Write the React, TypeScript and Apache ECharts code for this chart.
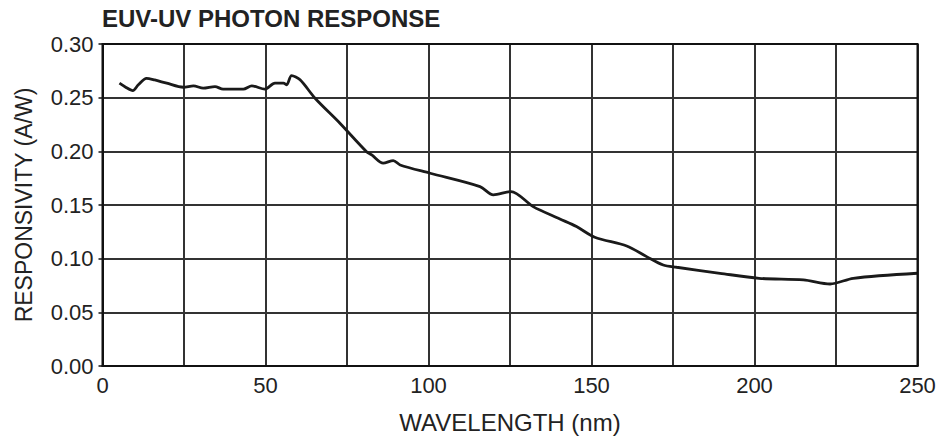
import React, { useEffect, useRef } from "react";
import * as echarts from "echarts";

const wavelengths = [5.2, 7, 9.3, 11, 13.5, 16, 19.7, 24.8, 27.9, 30.9, 34.5, 37, 43.2, 45.8, 49.8, 52.9, 55.5, 56.5, 58, 60.6, 65.2, 72.9, 81, 82.6, 86.1, 89.2, 91.3, 100.5, 115.8, 119.9, 125.3, 132.1, 140.3, 145.4, 151, 160.8, 166.9, 172, 176.1, 189.4, 201.4, 215, 223.2, 230.3, 250];
const responsivity = [0.2635, 0.26, 0.2566, 0.262, 0.268, 0.2665, 0.2635, 0.2597, 0.261, 0.2588, 0.2603, 0.2579, 0.2579, 0.261, 0.258, 0.2635, 0.2635, 0.262, 0.2706, 0.2666, 0.2495, 0.226, 0.1997, 0.1967, 0.189, 0.1914, 0.1873, 0.1796, 0.1671, 0.1594, 0.1625, 0.1485, 0.137, 0.1299, 0.12, 0.1118, 0.1019, 0.0941, 0.092, 0.0864, 0.0817, 0.0802, 0.0764, 0.0817, 0.0864];

const titleText = "EUV-UV PHOTON RESPONSE";
const xName = "WAVELENGTH (nm)";
const yName = "RESPONSIVITY (A/W)";

export default function App() {
  const ref = useRef<HTMLDivElement>(null);
  useEffect(() => {
    if (!ref.current) return;
    const chart = echarts.init(ref.current, null, { renderer: "svg" });
    const font = "'Liberation Sans', Arial, Helvetica, sans-serif";
    chart.setOption({
      animation: false,
      backgroundColor: "#ffffff",
      title: {
        text: titleText,
        left: 102,
        top: 6,
        padding: 0,
        textStyle: { fontFamily: font, fontSize: 24, fontWeight: "bold", color: "#222" },
      },
      grid: { left: 102.5, right: 30.5, top: 44, bottom: 73, containLabel: false },
      xAxis: {
        type: "value",
        min: 0,
        max: 250,
        interval: 25,
        name: xName,
        nameLocation: "middle",
        nameGap: 44,
        nameTextStyle: { fontFamily: font, fontSize: 24, color: "#222" },
        axisLine: { show: true, lineStyle: { color: "#111", width: 2 } },
        axisTick: { show: false },
        axisLabel: {
          fontFamily: font,
          fontSize: 22,
          color: "#222",
          margin: 8,
          formatter: (v: number) => (v % 50 === 0 ? String(v) : ""),
        },
        splitLine: { show: true, lineStyle: { color: "#333", width: 2 } },
      },
      yAxis: {
        type: "value",
        min: 0,
        max: 0.3,
        interval: 0.05,
        name: yName,
        nameLocation: "middle",
        nameGap: 67,
        nameTextStyle: { fontFamily: font, fontSize: 23, color: "#222" },
        axisLine: { show: true, lineStyle: { color: "#111", width: 2 } },
        axisTick: { show: true, length: 4, lineStyle: { color: "#111", width: 1.5 } },
        axisLabel: {
          fontFamily: font,
          fontSize: 22,
          color: "#222",
          margin: 9,
          formatter: (v: number) => v.toFixed(2),
        },
        splitLine: { show: true, lineStyle: { color: "#333", width: 2 } },
      },
      graphic: [
        {
          type: "rect",
          shape: { x: 102.5, y: 44, width: 815, height: 322 },
          style: { fill: "none", stroke: "#111", lineWidth: 2 },
          silent: true,
          z: 10,
        },
      ],
      series: [
        {
          type: "line",
          data: wavelengths.map((w, i) => [w, responsivity[i]]),
          showSymbol: false,
          smooth: 0.3,
          lineStyle: { color: "#1a1a1a", width: 2.8 },
          z: 5,
        },
      ],
    });
    return () => chart.dispose();
  }, []);
  return (
    <div
      ref={ref}
      style={{ position: "fixed", left: 0, top: 0, width: 948, height: 439 }}
    />
  );
}
